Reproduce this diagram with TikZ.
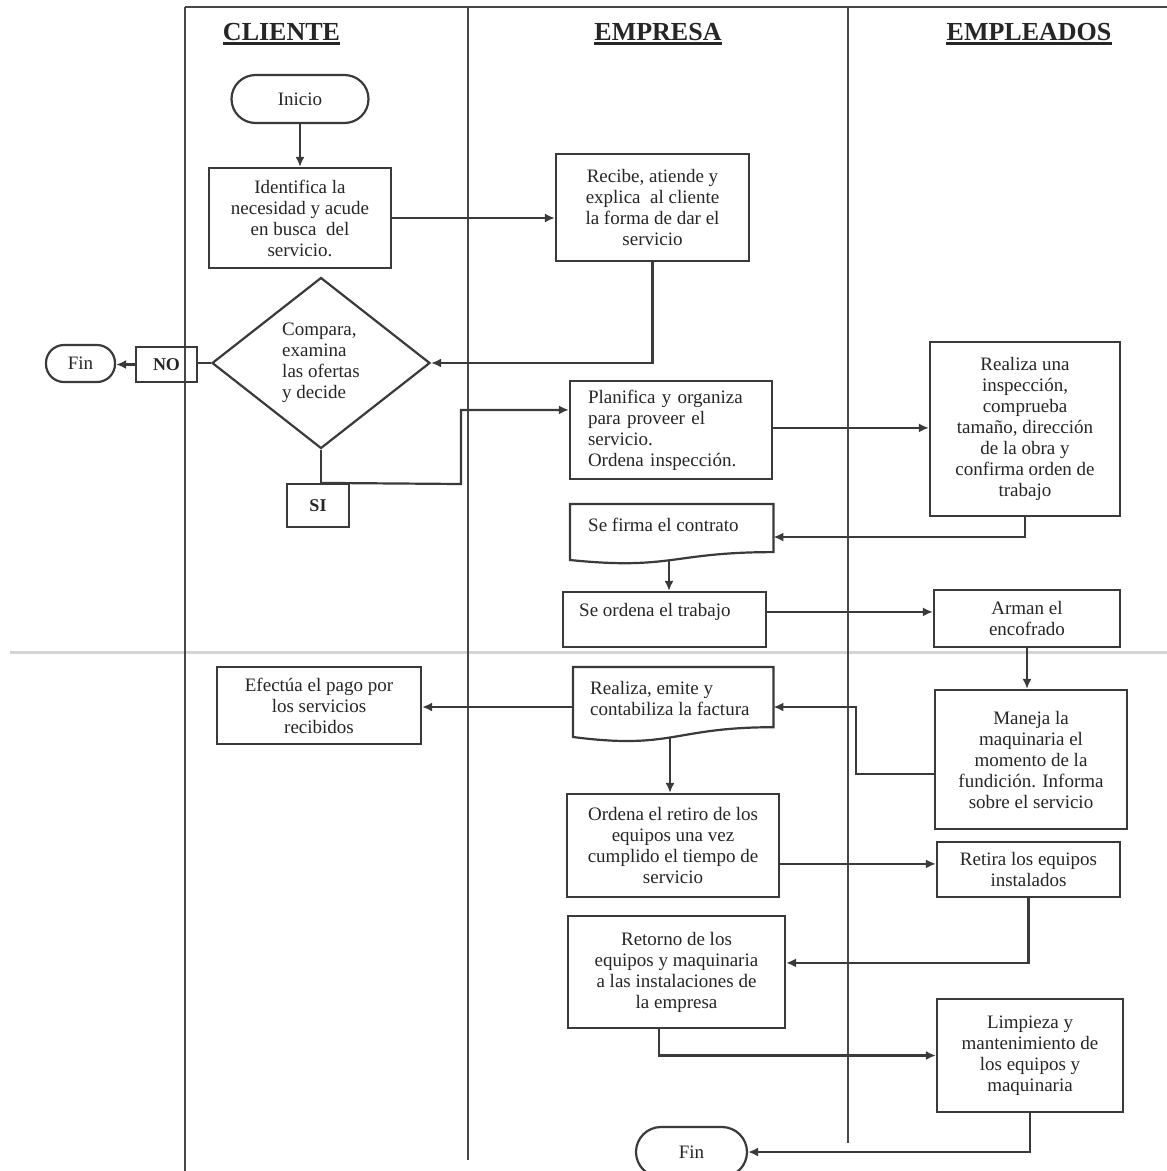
\documentclass[tikz,border=0pt]{standalone}
\usepackage{fontspec}
\setmainfont{Liberation Serif}
\usetikzlibrary{shapes.geometric,arrows.meta,calc}
\definecolor{linec}{HTML}{3A3A3A}
\definecolor{textc}{HTML}{262626}
\definecolor{framec}{HTML}{474747}
\definecolor{bandc}{HTML}{D4D4D4}
\begin{document}
\begin{tikzpicture}[x=1pt,y=-1pt,
  txt/.style={font=\fontsize{19}{21}\selectfont, text=textc, inner sep=0pt},
  box/.style={txt, draw=linec, line width=2.2pt, rectangle, align=center},
  term/.style={box, rounded corners=#1},
  hdr/.style={font=\fontsize{26}{30}\selectfont\bfseries, text=textc, inner sep=0pt, anchor=base},
  ul/.style={line width=2.8pt, draw=textc},
  frame/.style={line width=2pt, draw=framec},
  conn/.style={line width=2.2pt, draw=linec},
  arr/.style={conn, -{Latex[length=10pt,width=9pt]}},
  ghost/.style={inner sep=0pt, draw=none, rectangle}
]
\useasboundingbox (0,0) rectangle (1167,1171);
\clip (0,0) rectangle (1167,1171);
\fill[white] (0,0) rectangle (1167,1171);

% swimlane frame
\draw[draw=bandc, line width=3pt] (10,652) -- (1167,652);
\draw[frame] (185,7) -- (1167,7);
\draw[frame] (185,7) -- (185,1171);
\draw[frame] (468,7) -- (468,1160);
\draw[frame] (848,7) -- (848,1143);

% headers
\node[hdr] (hcli) at (281.5,40) {CLIENTE};
\node[hdr] (hemp) at (658,40) {EMPRESA};
\node[hdr] (hemd) at (1029,40) {EMPLEADOS};
\foreach \h in {hcli,hemp,hemd}
  \draw[ul] ([yshift=-3.5pt]\h.base west) -- ([yshift=-3.5pt]\h.base east);

% CLIENTE lane
\node[term=24pt, minimum width=137pt, minimum height=48pt] (inicio) at (300,99) {Inicio};
\node[box, minimum width=182pt, minimum height=100pt] (ident) at (300,218)
  {Identifica la\\necesidad y acude\\en busca\ \ del\\servicio.};
\node[box, shape=diamond, minimum width=218pt, minimum height=171pt, align=left] (dia) at (321,363)
  {Compara,\\examina\\las ofertas\\y decide};
\node[box, font=\fontsize{18}{21}\selectfont\bfseries, minimum width=61pt, minimum height=35pt] (no) at (166.5,364.5) {NO};
\node[term=18pt, minimum width=69pt, minimum height=37pt] (fin1) at (80.5,363.5) {Fin};
\node[box, font=\fontsize{18}{21}\selectfont\bfseries, minimum width=62pt, minimum height=43pt] (si) at (318,505.5) {SI};
\node[box, minimum width=204pt, minimum height=77pt] (pago) at (319,705.5)
  {Efectúa el pago por\\los servicios\\recibidos};

% EMPRESA lane
\node[box, minimum width=193pt, minimum height=107pt] (recibe) at (652.5,207.5)
  {Recibe, atiende y\\explica\ \ al cliente\\la forma de dar el\\servicio};
\node[box, minimum width=202pt, minimum height=98pt, align=left, text width=166pt] (plan) at (671,430)
  {Planifica y organiza\\para proveer el\\servicio.\\Ordena inspección.};
\node[ghost, minimum width=203pt, minimum height=60pt, anchor=north west] (firma) at (570,504) {};
\draw[conn] (firma.north west) -- (firma.north east) -- ($(firma.north east)+(0,48.1)$)
  .. controls ($(firma.north)+(0,48.1)$) and ($(firma.north)+(0,66.4)$) .. ($(firma.north west)+(0,56)$) -- cycle;
\node[txt, anchor=west] (firmat) at (588,525) {Se firma el contrato};
\node[box, minimum width=203pt, minimum height=55pt] (ordena) at (664.5,619.5) {};
\node[txt, anchor=west] (ordenat) at (579,612) {Se ordena el trabajo};
\node[ghost, minimum width=200pt, minimum height=75pt, anchor=north west] (fact) at (573,667) {};
\draw[conn] (fact.north west) -- (fact.north east) -- ($(fact.north east)+(0,60.2)$)
  .. controls ($(fact.north)+(0,60.2)$) and ($(fact.north)+(0,83)$) .. ($(fact.north west)+(0,70)$) -- cycle;
\node[txt, anchor=west, align=left] (factt) at (590,698.5) {Realiza, emite y\\contabiliza la factura};
\node[box, minimum width=212pt, minimum height=103pt] (retiro) at (673,845.5)
  {Ordena el retiro de los\\equipos una vez\\cumplido el tiempo de\\servicio};
\node[box, minimum width=217pt, minimum height=112pt] (retorno) at (676.5,972)
  {Retorno de los\\equipos y maquinaria\\a las instalaciones de\\la empresa};
\node[term=25pt, minimum width=111pt, minimum height=50pt] (fin2) at (691.5,1152) {Fin};

% EMPLEADOS lane
\node[box, minimum width=190pt, minimum height=174pt] (insp) at (1025,429)
  {Realiza una\\inspección,\\comprueba\\tamaño, dirección\\de la obra y\\confirma orden de\\trabajo};
\node[box, minimum width=186pt, minimum height=57pt] (arman) at (1027,618.5)
  {Arman el\\encofrado};
\node[box, minimum width=192pt, minimum height=139pt] (maneja) at (1031,759.5)
  {Maneja la\\maquinaria el\\momento de la\\fundición. Informa\\sobre el servicio};
\node[box, minimum width=183pt, minimum height=55pt] (retira) at (1028.5,869.5)
  {Retira los equipos\\instalados};
\node[box, minimum width=186pt, minimum height=113pt] (limp) at (1030,1055.5)
  {Limpieza y\\mantenimiento de\\los equipos y\\maquinaria};

% connector anchor points
\coordinate (sij) at (461,484);
\coordinate (planw) at ($(plan.north west)+(0,30)$);
\coordinate (plane) at ($(plan.north east)+(0,48)$);
\coordinate (firmae) at ($(firma.north east)+(0,33)$);
\coordinate (firmab) at (669,560);
\coordinate (ordenae) at ($(ordena.north east)+(0,21)$);
\coordinate (mjw) at ($(maneja.north west)+(0,85)$);
\coordinate (facte) at ($(fact.north east)+(0,40)$);
\coordinate (factw) at ($(fact.north west)+(0,40)$);
\coordinate (factb) at (670,737);
\coordinate (retiroe) at ($(retiro.north east)+(0,71)$);
\coordinate (retornoe) at ($(retorno.north east)+(0,48)$);
\coordinate (retb) at ($(retorno.south west)+(92,0)$);

% connectors
\draw[arr] (inicio.south) -- (ident.north);
\draw[arr] (ident.east) -- (ident.east -| recibe.west);
\draw[arr] (recibe.south) |- (dia.east);
\draw[conn] (dia.west) -- (dia.west -| no.east);
\draw[arr] (no.west) -- (no.west -| fin1.east);
\draw[conn] (dia.south) -- (dia.south |- si.north);
\draw[arr] (dia.south |- si.north) -- (sij) |- (planw);
\draw[arr] (plane) -- (plane -| insp.west);
\draw[arr] (insp.south) |- (firmae);
\draw[arr] (firmab) -- (firmab |- ordena.north);
\draw[arr] (ordenae) -- (ordenae -| arman.west);
\draw[arr] (arman.south) -- (arman.south |- maneja.north);
\draw[arr] (mjw) -- ++(-78,0) |- (facte);
\draw[arr] (factw) -- (factw -| pago.east);
\draw[arr] (factb) -- (factb |- retiro.north);
\draw[arr] (retiroe) -- (retiroe -| retira.west);
\draw[arr] (retira.south) |- (retornoe);
\draw[arr] (retb) |- (limp.west);
\draw[arr] (limp.south) |- (fin2.east);
\end{tikzpicture}
\end{document}
